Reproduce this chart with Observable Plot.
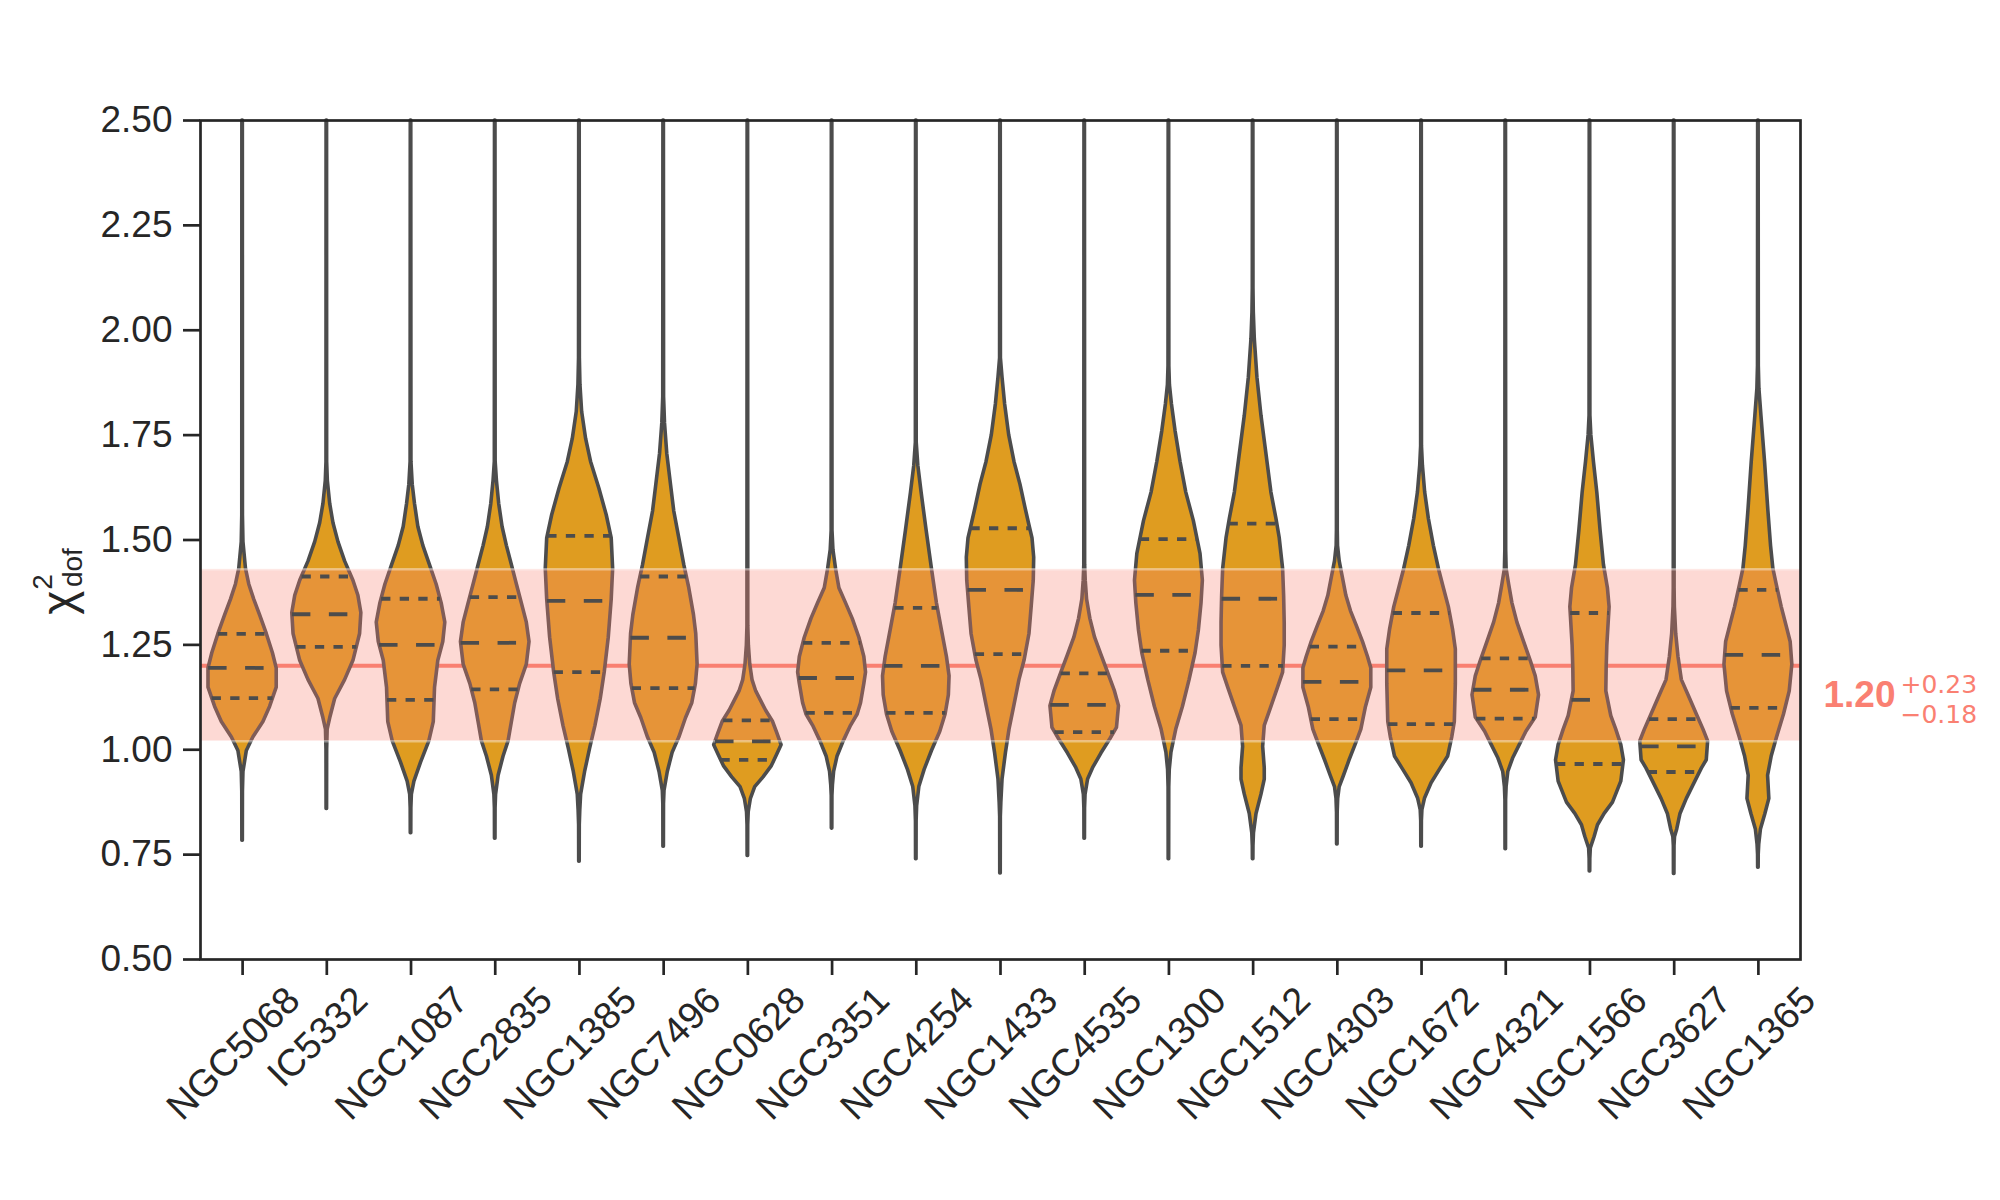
<!DOCTYPE html>
<html>
<head>
<meta charset="utf-8">
<script src="https://cdn.jsdelivr.net/npm/d3@7"></script>
<script src="https://cdn.jsdelivr.net/npm/@observablehq/plot@0.6"></script>
<style>
  body { margin: 0; background: #fff; }
  #chart svg { display: block; }
</style>
</head>
<body>
<div id="chart"></div>
<script>
// ---------------- data ----------------
const galaxies = ["NGC5068","IC5332","NGC1087","NGC2835","NGC1385","NGC7496","NGC0628","NGC3351","NGC4254","NGC1433",
                  "NGC4535","NGC1300","NGC1512","NGC4303","NGC1672","NGC4321","NGC1566","NGC3627","NGC1365"];

const yTicks = [0.50, 0.75, 1.00, 1.25, 1.50, 1.75, 2.00, 2.25, 2.50];

// overall value and its asymmetric uncertainty (shaded band)
const centralValue = 1.20;
const upperError = 0.23;
const lowerError = 0.18;

// quartiles of each distribution
const q1      = [1.123,1.245,1.119,1.144,1.185,1.147,0.976,1.088,1.088,1.228,1.042,1.236,1.200,1.073,1.061,1.074,0.966,0.947,1.100];
const medians = [1.195,1.323,1.250,1.255,1.355,1.267,1.020,1.171,1.200,1.381,1.107,1.369,1.360,1.162,1.189,1.143,1.119,1.008,1.226];
const q3      = [1.276,1.413,1.360,1.364,1.510,1.413,1.070,1.255,1.338,1.528,1.182,1.502,1.539,1.246,1.326,1.218,1.326,1.073,1.381];

// violin outlines: [chi2 value, half width of the density (in category widths)]
const profiles = [
  [[0.783,0.003],[0.90,0.004],[0.947,0.01],[0.997,0.05],[1.029,0.127],[1.066,0.247],[1.102,0.326],[1.148,0.405],[1.194,0.405],[1.23,0.36],[1.276,0.287],[1.321,0.207],[1.358,0.138],[1.394,0.079],[1.431,0.04],[1.495,0.01],[1.559,0.004],[2.5,0.003]],
  [[0.859,0.003],[1.00,0.004],[1.048,0.01],[1.075,0.04],[1.121,0.099],[1.166,0.217],[1.212,0.316],[1.276,0.395],[1.326,0.41],[1.367,0.375],[1.403,0.316],[1.449,0.217],[1.495,0.138],[1.54,0.079],[1.586,0.04],[1.641,0.012],[1.686,0.004],[2.5,0.003]],
  [[0.801,0.003],[0.86,0.004],[0.893,0.01],[0.924,0.04],[0.97,0.12],[1.02,0.217],[1.066,0.27],[1.148,0.285],[1.212,0.324],[1.257,0.383],[1.303,0.407],[1.349,0.364],[1.394,0.304],[1.44,0.225],[1.486,0.146],[1.531,0.087],[1.586,0.047],[1.632,0.02],[1.686,0.005],[2.5,0.003]],
  [[0.788,0.003],[0.86,0.004],[0.893,0.01],[0.938,0.04],[0.984,0.099],[1.02,0.158],[1.066,0.198],[1.111,0.237],[1.157,0.296],[1.203,0.375],[1.257,0.407],[1.303,0.375],[1.349,0.316],[1.394,0.257],[1.44,0.198],[1.486,0.138],[1.531,0.087],[1.586,0.047],[1.641,0.02],[1.686,0.005],[2.5,0.003]],
  [[0.733,0.003],[0.82,0.004],[0.856,0.01],[0.893,0.02],[0.947,0.067],[1.002,0.126],[1.057,0.19],[1.121,0.253],[1.184,0.3],[1.267,0.348],[1.358,0.383],[1.431,0.4],[1.504,0.383],[1.559,0.324],[1.622,0.237],[1.686,0.138],[1.741,0.079],[1.805,0.032],[1.869,0.012],[1.933,0.005],[2.5,0.003]],
  [[0.769,0.003],[0.87,0.004],[0.902,0.01],[0.947,0.049],[0.993,0.107],[1.029,0.186],[1.075,0.265],[1.111,0.34],[1.157,0.383],[1.203,0.403],[1.276,0.387],[1.321,0.36],[1.385,0.304],[1.44,0.245],[1.504,0.186],[1.568,0.126],[1.632,0.087],[1.705,0.043],[1.778,0.016],[1.841,0.005],[2.5,0.003]],
  [[0.747,0.003],[0.82,0.004],[0.851,0.01],[0.883,0.036],[0.911,0.087],[0.934,0.186],[0.961,0.285],[0.988,0.348],[1.011,0.4],[1.039,0.35],[1.066,0.3],[1.093,0.217],[1.116,0.158],[1.139,0.099],[1.166,0.055],[1.203,0.028],[1.248,0.012],[1.294,0.005],[2.5,0.003]],
  [[0.812,0.003],[0.89,0.004],[0.915,0.01],[0.947,0.024],[0.984,0.065],[1.02,0.138],[1.057,0.225],[1.084,0.304],[1.111,0.344],[1.157,0.383],[1.184,0.403],[1.221,0.383],[1.267,0.324],[1.312,0.245],[1.349,0.166],[1.385,0.087],[1.431,0.047],[1.476,0.016],[1.522,0.005],[2.5,0.003]],
  [[0.739,0.003],[0.83,0.004],[0.865,0.01],[0.911,0.036],[0.952,0.099],[0.997,0.186],[1.043,0.285],[1.084,0.348],[1.13,0.387],[1.175,0.395],[1.221,0.364],[1.285,0.304],[1.349,0.245],[1.431,0.186],[1.522,0.123],[1.613,0.063],[1.677,0.024],[1.732,0.005],[2.5,0.003]],
  [[0.705,0.003],[0.84,0.004],[0.874,0.01],[0.929,0.024],[0.993,0.065],[1.048,0.107],[1.102,0.162],[1.166,0.225],[1.212,0.285],[1.276,0.344],[1.34,0.37],[1.403,0.395],[1.458,0.4],[1.504,0.38],[1.531,0.348],[1.577,0.296],[1.632,0.237],[1.686,0.166],[1.75,0.103],[1.823,0.055],[1.887,0.024],[1.933,0.005],[2.5,0.003]],
  [[0.788,0.003],[0.86,0.004],[0.893,0.01],[0.929,0.04],[0.956,0.099],[0.991,0.198],[1.025,0.304],[1.052,0.383],[1.104,0.407],[1.141,0.356],[1.184,0.277],[1.226,0.198],[1.267,0.123],[1.312,0.067],[1.358,0.028],[1.403,0.012],[1.44,0.005],[2.5,0.003]],
  [[0.739,0.003],[0.91,0.004],[0.952,0.01],[0.993,0.03],[1.048,0.087],[1.102,0.166],[1.166,0.245],[1.23,0.316],[1.285,0.356],[1.349,0.387],[1.403,0.403],[1.467,0.375],[1.545,0.296],[1.613,0.206],[1.686,0.138],[1.759,0.079],[1.823,0.036],[1.869,0.012],[1.914,0.005],[2.5,0.003]],
  [[0.739,0.003],[0.77,0.004],[0.801,0.01],[0.847,0.04],[0.893,0.099],[0.929,0.138],[0.956,0.138],[1.007,0.119],[1.057,0.138],[1.102,0.217],[1.148,0.296],[1.184,0.356],[1.248,0.375],[1.303,0.375],[1.367,0.368],[1.431,0.356],[1.504,0.316],[1.55,0.277],[1.613,0.217],[1.705,0.158],[1.796,0.099],[1.887,0.051],[1.978,0.02],[2.042,0.008],[2.1,0.004],[2.5,0.003]],
  [[0.774,0.003],[0.85,0.004],[0.883,0.01],[0.911,0.028],[0.938,0.079],[0.975,0.146],[1.016,0.225],[1.048,0.285],[1.102,0.34],[1.148,0.403],[1.194,0.403],[1.221,0.364],[1.257,0.304],[1.294,0.233],[1.33,0.162],[1.367,0.107],[1.413,0.063],[1.449,0.028],[1.486,0.008],[1.522,0.005],[2.5,0.003]],
  [[0.769,0.003],[0.83,0.004],[0.856,0.01],[0.883,0.04],[0.92,0.119],[0.952,0.217],[0.984,0.316],[1.029,0.364],[1.066,0.395],[1.157,0.407],[1.239,0.407],[1.285,0.375],[1.34,0.324],[1.385,0.265],[1.431,0.206],[1.486,0.146],[1.55,0.087],[1.613,0.043],[1.677,0.016],[1.723,0.005],[2.5,0.003]],
  [[0.763,0.003],[0.88,0.004],[0.911,0.01],[0.947,0.03],[0.979,0.087],[1.011,0.166],[1.043,0.245],[1.077,0.356],[1.13,0.395],[1.175,0.356],[1.212,0.296],[1.257,0.217],[1.303,0.138],[1.349,0.079],[1.394,0.04],[1.431,0.01],[1.476,0.005],[2.5,0.003]],
  [[0.71,0.003],[0.74,0.004],[0.765,0.01],[0.792,0.055],[0.82,0.095],[0.847,0.174],[0.874,0.273],[0.924,0.372],[0.975,0.403],[1.011,0.372],[1.048,0.312],[1.08,0.253],[1.139,0.194],[1.194,0.198],[1.248,0.206],[1.34,0.233],[1.385,0.213],[1.44,0.166],[1.522,0.126],[1.613,0.087],[1.686,0.047],[1.75,0.016],[1.796,0.005],[2.5,0.003]],
  [[0.704,0.003],[0.77,0.004],[0.792,0.01],[0.81,0.036],[0.847,0.075],[0.883,0.15],[0.915,0.229],[0.955,0.328],[0.975,0.387],[1.02,0.403],[1.048,0.348],[1.084,0.269],[1.13,0.17],[1.166,0.091],[1.221,0.051],[1.276,0.024],[1.34,0.008],[1.385,0.005],[2.5,0.003]],
  [[0.719,0.003],[0.75,0.004],[0.774,0.01],[0.81,0.03],[0.847,0.083],[0.883,0.13],[0.938,0.115],[0.984,0.158],[1.029,0.221],[1.084,0.304],[1.139,0.372],[1.203,0.403],[1.257,0.383],[1.294,0.336],[1.34,0.277],[1.394,0.217],[1.431,0.178],[1.486,0.15],[1.568,0.119],[1.686,0.079],[1.796,0.036],[1.86,0.012],[1.914,0.005],[2.5,0.003]]
];

// ---------------- derived tables ----------------
function halfWidthAt(profile, v) {
  for (let k = 1; k < profile.length; k++) {
    const [v0, w0] = profile[k - 1], [v1, w1] = profile[k];
    if (v <= v1) return w0 + (w1 - w0) * (v - v0) / (v1 - v0);
  }
  return 0;
}
const violinRows = galaxies.flatMap((g, i) => profiles[i].map(([v, w]) => ({galaxy: g, i, v, w})));
const quartileRows = galaxies.flatMap((g, i) => [q1[i], q3[i]].map(v => ({i, v, w: halfWidthAt(profiles[i], v)})));
const medianRows = galaxies.map((g, i) => ({i, v: medians[i], w: halfWidthAt(profiles[i], medians[i])}));
const bandRows = [{lo: centralValue - lowerError, hi: centralValue + upperError}];
const indices = galaxies.map((g, i) => i);
const fmt = d3.format(".2f");

// ---------------- chart ----------------
const W = 2000, H = 1200, mL = 200, mR = 200, mT = 120, mB = 241;
const ink = "#262626", edge = "#4C4C4C", salmon = "#FA8072";
const xDomain = [-0.5, galaxies.length - 0.5];

const chart = Plot.plot({
  width: W, height: H,
  marginLeft: mL, marginRight: mR, marginTop: mT, marginBottom: mB,
  style: {fontFamily: "'Liberation Sans', Arial, sans-serif", fontSize: "37px", color: ink, background: "#fff"},
  x: {domain: xDomain},
  y: {domain: [yTicks[0], yTicks[yTicks.length - 1]]},
  marks: [
    Plot.ruleY([centralValue], {stroke: salmon, strokeWidth: 4}),
    Plot.areaX(violinRows, {
      z: "galaxy", y: "v", x1: d => d.i - d.w, x2: d => d.i + d.w,
      fill: "#DF9C20", stroke: edge, strokeWidth: 3.6, strokeLinejoin: "round", curve: "linear"
    }),
    Plot.rect(bandRows, {x1: xDomain[0], x2: xDomain[1], y1: "lo", y2: "hi", fill: salmon, fillOpacity: 0.3}),
    Plot.ruleY(bandRows.flatMap(b => [b.lo, b.hi]), {stroke: "#fff", strokeOpacity: 0.4, strokeWidth: 2.5}),
    Plot.ruleY(quartileRows, {y: "v", x1: d => d.i - d.w, x2: d => d.i + d.w, stroke: edge, strokeWidth: 3.8, strokeDasharray: "9.3,9.3"}),
    Plot.ruleY(medianRows, {y: "v", x1: d => d.i - d.w, x2: d => d.i + d.w, stroke: edge, strokeWidth: 3.8, strokeDasharray: "18.5,18.5"}),
    Plot.frame({stroke: ink, strokeWidth: 2.7}),
    Plot.axisY({ticks: yTicks, tickFormat: fmt, tickSize: 17, tickPadding: 11, fontSize: 37, strokeWidth: 2.7, color: ink, label: null}),
    Plot.axisX({ticks: indices, tickSize: 16, strokeWidth: 2.7, stroke: ink, fill: "none", label: null}),
    Plot.text(galaxies, {x: (d, i) => i, text: d => d, frameAnchor: "bottom", rotate: -45, textAnchor: "middle",
                         lineAnchor: "middle", fontSize: 38, fill: ink}),
    Plot.text([centralValue], {x: xDomain[1], y: d => d, text: d => fmt(d), dx: 23, dy: 29, textAnchor: "start",
                               lineAnchor: "middle", fontSize: 37, fontWeight: "bold", fill: salmon}),
    Plot.text([centralValue], {x: xDomain[1], y: d => d, text: () => "+" + fmt(upperError), dx: 100, dy: 19, textAnchor: "start",
                               lineAnchor: "middle", fontSize: 25, fontFamily: "'DejaVu Sans', sans-serif", fill: salmon}),
    Plot.text([centralValue], {x: xDomain[1], y: d => d, text: () => "\u2212" + fmt(lowerError), dx: 100, dy: 49, textAnchor: "start",
                               lineAnchor: "middle", fontSize: 25, fontFamily: "'DejaVu Sans', sans-serif", fill: salmon})
  ]
});

document.getElementById("chart").append(chart);

// matplotlib-style rotated labels: bounding box centred under each tick
const xs = chart.scale("x");
const svg = d3.select(chart);
svg.selectAll("text").filter(function () { return galaxies.includes(this.textContent); }).each(function () {
  const k = galaxies.indexOf(this.textContent);
  const L = this.getComputedTextLength();
  const cx = xs.apply(k);
  const cy = (H - mB) + 16 + 12 + (L + 38 * 1.15) * Math.SQRT1_2 / 2;
  this.removeAttribute("x");
  this.removeAttribute("y");
  this.setAttribute("transform", `translate(${cx},${cy}) rotate(-45)`);
  const g = this.parentNode;
  if (g && g.getAttribute("transform")) g.removeAttribute("transform");
});

// y-axis label  χ²_dof
const midY = (mT + (H - mB)) / 2;
const ylab = svg.append("text")
  .attr("transform", `translate(74,${midY + 42}) rotate(-90)`)
  .attr("fill", ink).attr("font-size", 46)
  .attr("font-family", "'Liberation Sans', Arial, sans-serif");
ylab.append("tspan").text("\u03C7");
ylab.append("tspan").attr("font-size", 28).attr("dx", 1).attr("dy", -22).text("2");
ylab.append("tspan").attr("font-size", 28).attr("dx", -13).attr("dy", 30).text("dof");
</script>
</body>
</html>
